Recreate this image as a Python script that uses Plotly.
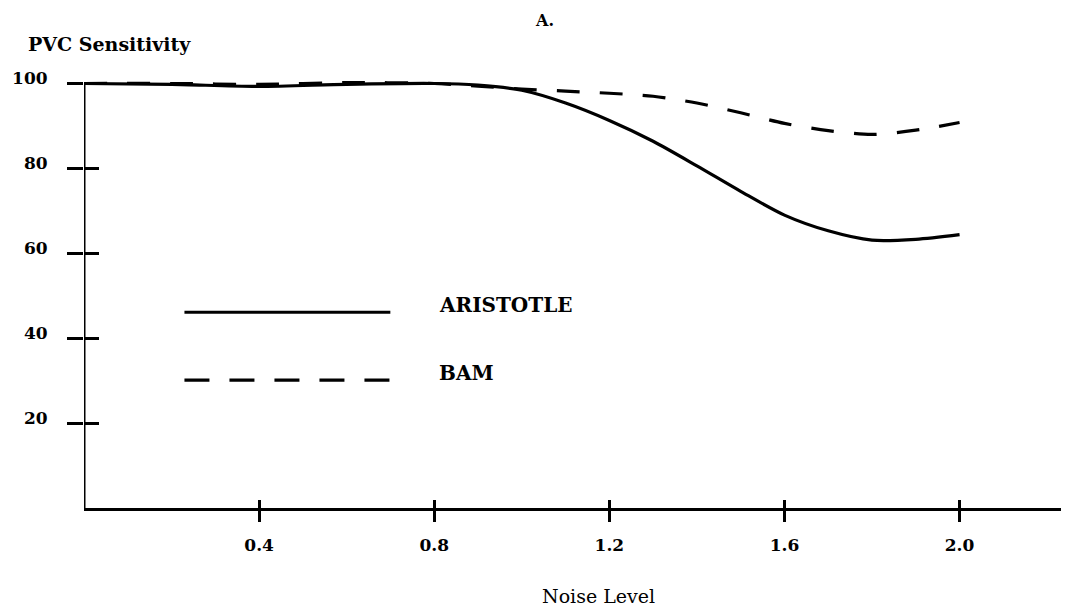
import plotly.graph_objects as go

# ---- data ----
noise = [0.0, 0.2, 0.4, 0.6, 0.8, 0.9, 1.0, 1.1, 1.2, 1.3, 1.4, 1.5, 1.6, 1.7, 1.8, 1.9, 2.0]
aristotle = [100, 99.8, 99.3, 99.8, 100, 99.6, 98.4, 95.4, 91.3, 86.4, 80.6, 74.6, 69.0, 65.3, 63.1, 63.3, 64.4]
bam = [100, 100, 99.8, 100.2, 100, 99.4, 98.7, 98.2, 97.7, 97.0, 95.4, 93.1, 90.6, 88.9, 88.0, 89.0, 90.8]

x_ticks = [0.4, 0.8, 1.2, 1.6, 2.0]
x_ticklabels = ["0.4", "0.8", "1.2", "1.6", "2.0"]
y_ticks = [20, 40, 60, 80, 100]
y_ticklabels = ["20", "40", "60", "80", "100"]

series_names = ["ARISTOTLE", "BAM"]

FONT = "DejaVu Serif"
OFF = 8  # page body margin offset
W, H = 1069 - OFF, 613 - OFF
L = 83.5 - OFF
T = 66.5
B = 105
PW = W - L
PH = H - T - B
XR = [0, PW / 438.0]
YR = [0, 102]

fig = go.Figure()
fig.add_trace(go.Scatter(x=noise, y=bam, mode="lines", name=series_names[1],
                         line=dict(color="black", width=3.2, dash="23px,20px", shape="spline", smoothing=0.8),
                         xaxis="x", yaxis="y", showlegend=False, hoverinfo="skip"))
fig.add_trace(go.Scatter(x=noise, y=aristotle, mode="lines", name=series_names[0],
                         line=dict(color="black", width=3.2, shape="spline", smoothing=0.8),
                         xaxis="x2", yaxis="y2", showlegend=False, hoverinfo="skip"))

tickfont = dict(family=FONT, size=17, color="black", weight="bold")
fig.update_layout(
    width=W, height=H,
    margin=dict(l=L, r=0, t=T, b=B, pad=0),
    paper_bgcolor="white", plot_bgcolor="white",
    showlegend=False,
    xaxis=dict(range=XR, tickvals=x_ticks, ticktext=x_ticklabels, ticks="outside", ticklen=11,
               tickwidth=2.5, tickcolor="black", showline=True, linecolor="black", linewidth=3,
               showgrid=False, zeroline=False, tickfont=tickfont, ticklabelstandoff=9,
               anchor="y", side="bottom"),
    xaxis2=dict(range=XR, tickvals=x_ticks, ticks="inside", ticklen=8, tickwidth=2.5,
                tickcolor="black", showticklabels=False, showline=False, showgrid=False,
                zeroline=False, overlaying="x", anchor="y2", side="bottom"),
    yaxis=dict(range=YR, tickvals=y_ticks, ticktext=y_ticklabels, ticks="outside", ticklen=16,
               tickwidth=3, tickcolor="black", showline=False, showgrid=False, zeroline=False,
               tickfont=tickfont, ticklabelstandoff=16, ticklabelshift=-5, anchor="x", side="left"),
    yaxis2=dict(range=YR, tickvals=y_ticks, ticks="inside", ticklen=15, tickwidth=3,
                tickcolor="black", showticklabels=False, showline=False, showgrid=False,
                zeroline=False, overlaying="y", anchor="x", side="left"),
)

# y axis line from 0 to 100
fig.add_shape(type="line", xref="x", yref="y", x0=0, x1=0, y0=0, y1=100,
              line=dict(color="black", width=3))


# screen pixel -> paper coordinates
def px_x(p):
    return (p - OFF - L) / PW


def px_y(p):
    return (H - B - (p - OFF)) / PH


# manual legend (long line samples as in the reference)
fig.add_shape(type="line", xref="paper", yref="paper", x0=px_x(184), x1=px_x(390),
              y0=px_y(312), y1=px_y(312), line=dict(color="black", width=3.2))
fig.add_shape(type="line", xref="paper", yref="paper", x0=px_x(184), x1=px_x(390),
              y0=px_y(380), y1=px_y(380), line=dict(color="black", width=3.2, dash="25px,20px"))

annfont = dict(family=FONT, size=20, color="black", weight="bold")
fig.add_annotation(xref="paper", yref="paper", x=px_x(437), y=px_y(305), text="ARISTOTLE",
                   showarrow=False, xanchor="left", yanchor="middle", font=annfont)
fig.add_annotation(xref="paper", yref="paper", x=px_x(437), y=px_y(373), text="BAM",
                   showarrow=False, xanchor="left", yanchor="middle", font=annfont)

# titles
fig.add_annotation(xref="paper", yref="paper", x=px_x(25), y=px_y(43), text="PVC Sensitivity",
                   showarrow=False, xanchor="left", yanchor="middle",
                   font=dict(family=FONT, size=19, color="black", weight="bold"))
fig.add_annotation(xref="paper", yref="paper", x=px_x(544), y=px_y(20), text="A.",
                   showarrow=False, xanchor="center", yanchor="middle",
                   font=dict(family=FONT, size=16, color="black", weight="bold"))
fig.add_annotation(xref="paper", yref="paper", x=px_x(598), y=px_y(596), text="Noise Level",
                   showarrow=False, xanchor="center", yanchor="middle",
                   font=dict(family=FONT, size=19, color="black"))

fig.write_html("out.html")
